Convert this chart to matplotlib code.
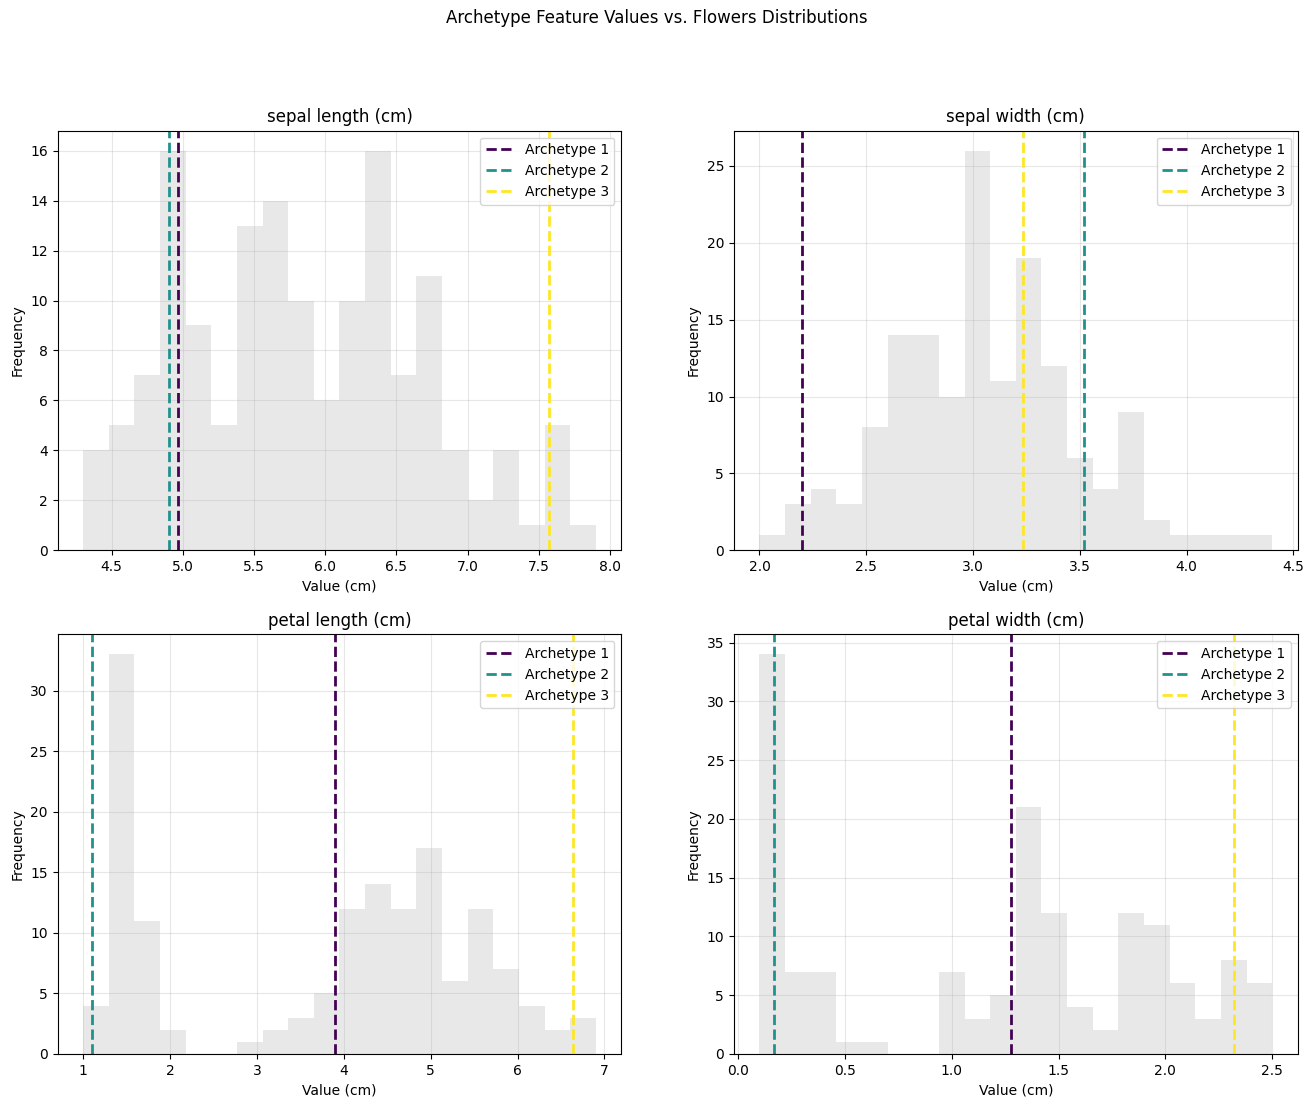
import matplotlib
matplotlib.use("Agg")
import matplotlib.pyplot as plt
import numpy as np

features = ["sepal length (cm)", "sepal width (cm)", "petal length (cm)", "petal width (cm)"]

# min / max of each feature (histogram range, 20 bins)
feature_min = [4.3, 2.0, 1.0, 0.1]
feature_max = [7.9, 4.4, 6.9, 2.5]

# bin counts
sepal_length_counts = [4, 5, 7, 16, 9, 5, 13, 14, 10, 6, 10, 16, 7, 11, 4, 2, 4, 1, 5, 1]
sepal_width_counts = [1, 3, 4, 3, 8, 14, 14, 10, 26, 11, 19, 12, 6, 4, 9, 2, 1, 1, 1, 1]
petal_length_counts = [4, 33, 11, 2, 0, 0, 1, 2, 3, 5, 12, 14, 12, 17, 6, 12, 7, 4, 2, 3]
petal_width_counts = [34, 7, 7, 1, 1, 0, 0, 7, 3, 5, 21, 12, 4, 2, 12, 11, 6, 3, 8, 6]
counts = [sepal_length_counts, sepal_width_counts, petal_length_counts, petal_width_counts]

# archetype values per feature
archetype_1 = [4.965, 2.198, 3.894, 1.277]
archetype_2 = [4.90, 3.517, 1.106, 0.167]
archetype_3 = [7.569, 3.232, 6.632, 2.322]
archetypes = [archetype_1, archetype_2, archetype_3]
archetype_labels = ["Archetype 1", "Archetype 2", "Archetype 3"]

colors = plt.cm.viridis(np.linspace(0, 1, len(archetypes)))

fig, axes = plt.subplots(2, 2, figsize=(13.13, 11.07), dpi=100)
fig.subplots_adjust(left=0.0438, right=0.9884, top=0.882, bottom=0.0479,
                    wspace=0.1993, hspace=0.2)

for i, ax in enumerate(axes.flat):
    edges = np.linspace(feature_min[i], feature_max[i], len(counts[i]) + 1)
    ax.hist(edges[:-1], bins=edges, weights=counts[i], color="lightgray", alpha=0.5)
    for j, arch in enumerate(archetypes):
        ax.axvline(arch[i], color=colors[j], linestyle="--", linewidth=2,
                   label=archetype_labels[j])
    ax.set_title(features[i])
    ax.set_xlabel("Value (cm)")
    ax.set_ylabel("Frequency")
    ax.legend(loc="upper right")
    ax.grid(True, alpha=0.3)

fig.suptitle("Archetype Feature Values vs. Flowers Distributions", y=0.992)
fig.savefig("out.png", dpi=100)
